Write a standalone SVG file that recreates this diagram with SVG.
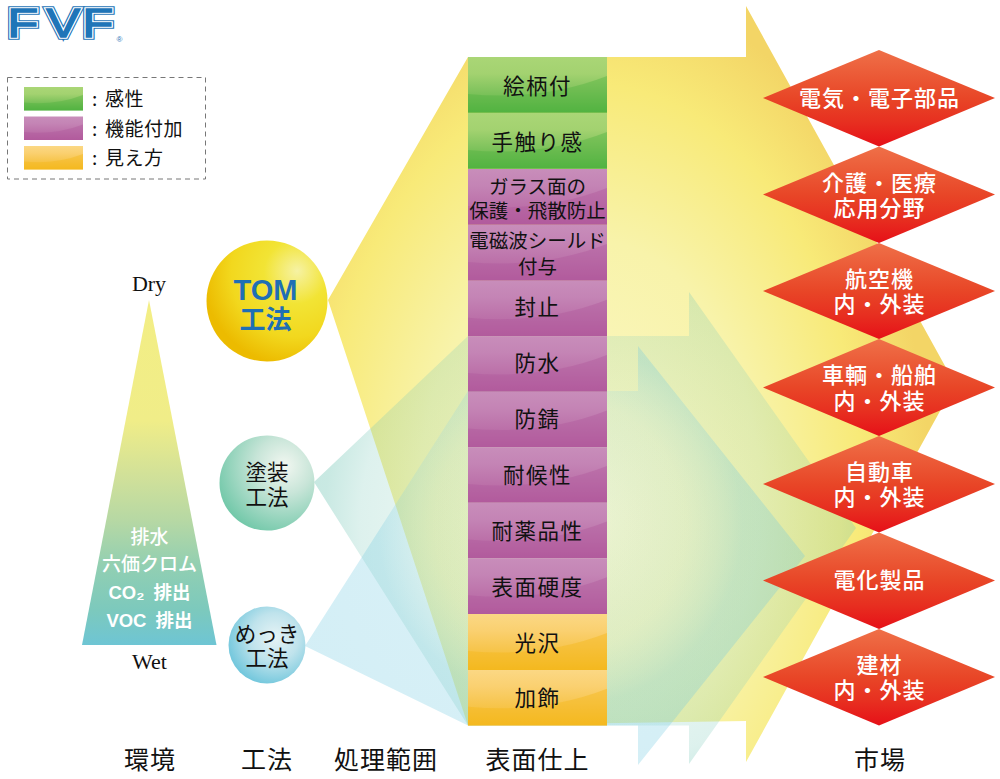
<svg xmlns="http://www.w3.org/2000/svg" xmlns:xlink="http://www.w3.org/1999/xlink" width="1000" height="779" viewBox="0 0 1000 779">
<style>
text{font-family:"Noto Sans CJK JP","Noto Sans",sans-serif;text-anchor:middle;fill:#111}
.r{font-size:21.5px;letter-spacing:1.5px}
.r2{font-size:19.5px}
.d{font-size:22px;letter-spacing:1px;fill:#fff;font-weight:500}
.h{font-size:25px;letter-spacing:1px}
.tri{font-size:19px;fill:#fff;font-weight:500}
.tl{font-family:"Liberation Sans","Noto Sans CJK JP",sans-serif;font-weight:700;font-size:18.5px;word-spacing:4px}
.ball{font-size:21.5px}
.leg{font-size:19px;text-anchor:start;letter-spacing:.5px}
.en{font-family:"Liberation Serif",serif;font-size:22px}
.gr{fill:url(#gG)}.pu{fill:url(#gP)}.or{fill:url(#gO)}
.ga{fill:#4fb23f;opacity:.4}.pa{fill:#b0589c;opacity:.4}.oa{fill:#f5b71c;opacity:.45}
.dia{fill:url(#gD)}
.lg{font-family:"Liberation Sans",sans-serif;font-size:40px;fill:#1f75b8;text-anchor:start}
</style>
<defs>
<linearGradient id="gG" x1="0" y1="0" x2="0" y2="1"><stop offset="0" stop-color="#aad676"/><stop offset=".3" stop-color="#a3d270"/><stop offset=".6" stop-color="#82c45e"/><stop offset="1" stop-color="#53b443"/></linearGradient>
<linearGradient id="gP" x1="0" y1="0" x2="0" y2="1"><stop offset="0" stop-color="#c88dba"/><stop offset=".3" stop-color="#c484b5"/><stop offset=".6" stop-color="#bd74ab"/><stop offset="1" stop-color="#b45d9e"/></linearGradient>
<linearGradient id="gO" x1="0" y1="0" x2="0" y2="1"><stop offset="0" stop-color="#fbd884"/><stop offset=".3" stop-color="#fad070"/><stop offset=".6" stop-color="#f7c650"/><stop offset="1" stop-color="#f5b921"/></linearGradient>
<path id="arc" d="M0,37 Q75,44 139,19 V55.700 H0 Z"/>
<linearGradient id="gD" x1="0" y1="0" x2="0" y2="1"><stop offset="0" stop-color="#ef7048"/><stop offset=".5" stop-color="#e84627"/><stop offset=".75" stop-color="#e72f20"/><stop offset="1" stop-color="#e61018"/></linearGradient>
<linearGradient id="gT" gradientUnits="userSpaceOnUse" x1="0" y1="300" x2="0" y2="645"><stop offset="0" stop-color="#f3ee85"/><stop offset=".35" stop-color="#f0ed88"/><stop offset=".52" stop-color="#cfe09a"/><stop offset=".64" stop-color="#b6d8a4"/><stop offset=".77" stop-color="#92cfb2"/><stop offset=".9" stop-color="#7cc9bd"/><stop offset="1" stop-color="#6ec5d4"/></linearGradient>
<radialGradient id="bY" cx=".72" cy=".28" r=".75" fx=".75" fy=".25"><stop offset="0" stop-color="#f6f2a4"/><stop offset=".35" stop-color="#f2e435"/><stop offset=".7" stop-color="#f2d81e"/><stop offset="1" stop-color="#ecbb00"/></radialGradient>
<radialGradient id="bG" cx=".68" cy=".32" r=".75"><stop offset="0" stop-color="#f2f7f1"/><stop offset=".4" stop-color="#c8e5d8"/><stop offset="1" stop-color="#72c8a9"/></radialGradient>
<radialGradient id="bB" cx=".6" cy=".4" r=".7"><stop offset="0" stop-color="#e6f3f5"/><stop offset=".45" stop-color="#bfe3ec"/><stop offset="1" stop-color="#62c1d9"/></radialGradient>
<radialGradient id="fY" gradientUnits="userSpaceOnUse" cx="0" cy="0" r="1" gradientTransform="translate(590 500) scale(340 520)"><stop offset="0" stop-color="#fbf8c8"/><stop offset=".5" stop-color="#f8f3aa"/><stop offset=".8" stop-color="#f8ea78"/><stop offset="1" stop-color="#f3d566"/></radialGradient>
<radialGradient id="fT" gradientUnits="userSpaceOnUse" cx="600" cy="525" r="300"><stop offset="0" stop-color="#cfeadc" stop-opacity=".22"/><stop offset=".4" stop-color="#a8dcc8" stop-opacity=".2"/><stop offset=".8" stop-color="#78c8b8" stop-opacity=".25"/><stop offset=".92" stop-color="#78c8b8" stop-opacity=".4"/><stop offset="1" stop-color="#78c8b8" stop-opacity=".42"/></radialGradient>
<radialGradient id="fB" gradientUnits="userSpaceOnUse" cx="560" cy="525" r="280"><stop offset="0" stop-color="#d8f0ec" stop-opacity=".18"/><stop offset=".45" stop-color="#a8dce8" stop-opacity=".16"/><stop offset=".65" stop-color="#6ec8e0" stop-opacity=".28"/><stop offset="1" stop-color="#6ec8e0" stop-opacity=".3"/></radialGradient>
<text id="logoT" class="lg" x="5.800 36.500 64.800" y="37.400" transform="scale(1.27 1)">FVF</text>
</defs>

<g id="logo">
<use href="#logoT" stroke="#1f75b8" stroke-width="5.300"/>
<use href="#logoT" stroke="#fff" stroke-width="3.400"/>
<use href="#logoT" stroke="#1f75b8" stroke-width="1.300"/>
<text x="119.500" y="42" style="font-family:'Liberation Sans',sans-serif;font-size:8px;fill:#1f75b8">®</text>
</g>

<g id="legend">
<rect x="7.500" y="77.500" width="198" height="101.500" fill="none" stroke="#777" stroke-dasharray="5 4"/>
<rect x="24" y="87" width="59" height="23.500" class="gr"/><use href="#arc" class="ga" transform="translate(24 87) scale(.4245 .422)"/>
<rect x="24" y="116.500" width="59" height="23.500" class="pu"/><use href="#arc" class="pa" transform="translate(24 116.500) scale(.4245 .422)"/>
<rect x="24" y="146" width="59" height="23.500" class="or"/><use href="#arc" class="oa" transform="translate(24 146) scale(.4245 .422)"/>
<text class="leg" x="92" y="105.500">:<tspan x="105">感性</tspan></text>
<text class="leg" x="92" y="135.500">:<tspan x="105">機能付加</tspan></text>
<text class="leg" x="92" y="165">:<tspan x="105">見え方</tspan></text>
</g>

<g id="connectors">
<polygon id="flow-tom" points="328,300 468,57 746,57 746,6 955,384 746,762 746,721 468,725.500" fill="url(#fY)"/>
<polygon id="flow-paint" points="314,482 468,336 689,336 689,292 856,528 689,764 689,725.500 468,725.500" fill="url(#fT)"/>
<polygon id="flow-plate" points="305,646 468,391 638,391 638,346 805,556 638,765 638,725.500 468,725.500" fill="url(#fB)"/>
</g>

<g id="environment">
<polygon points="149,300 216.500,645 82,645" fill="url(#gT)"/>
<text class="en" x="149" y="291">Dry</text>
<text class="en" x="149.500" y="669">Wet</text>
<text class="tri" x="149.500" y="544">排水</text>
<text class="tri" x="149.500" y="571">六価クロム</text>
<text class="tri tl" x="149.500" y="599">CO₂ 排出</text>
<text class="tri tl" x="149.500" y="627">VOC 排出</text>
</g>

<g id="node-tom">
<circle cx="267" cy="301" r="60.500" fill="url(#bY)"/>
<text x="265.500" y="299.500" style="font-family:'Liberation Sans',sans-serif;font-size:29px;font-weight:700;fill:#1f6fb5">TOM</text>
<text x="265.500" y="329" style="font-size:26px;font-weight:700;fill:#1f6fb5">工法</text>
</g>
<g id="node-paint">
<circle cx="267" cy="483" r="47.500" fill="url(#bG)"/>
<text class="ball" x="267" y="480">塗装</text>
<text class="ball" x="267" y="505">工法</text>
</g>
<g id="node-plating">
<circle cx="267" cy="645" r="38.500" fill="url(#bB)"/>
<text class="ball" x="267" y="642">めっき</text>
<text class="ball" x="267" y="666">工法</text>
</g>

<g id="surface">
<g id="s1"><rect x="468" y="57" width="139" height="55.700" class="gr"/><use href="#arc" x="468" y="57" class="ga"/><text class="r" x="537.500" y="94">絵柄付</text></g>
<g id="s2"><rect x="468" y="113" width="139" height="55.700" class="gr"/><use href="#arc" x="468" y="113" class="ga"/><text class="r" x="537.500" y="149.700">手触り感</text></g>
<g id="s3"><rect x="468" y="169" width="139" height="55.700" class="pu"/><use href="#arc" x="468" y="169" class="pa"/><text class="r2" x="537.500" y="194">ガラス面の</text><text class="r2" x="537.500" y="217.500">保護・飛散防止</text></g>
<g id="s4"><rect x="468" y="225" width="139" height="55.700" class="pu"/><use href="#arc" x="468" y="225" class="pa"/><text class="r2" x="537.500" y="247.500">電磁波シールド</text><text class="r2" x="537.500" y="274">付与</text></g>
<g id="s5"><rect x="468" y="280.700" width="139" height="55.500" class="pu"/><use href="#arc" x="468" y="280.700" class="pa"/><text class="r" x="537.500" y="315.300">封止</text></g>
<g id="s6"><rect x="468" y="336.200" width="139" height="55.500" class="pu"/><use href="#arc" x="468" y="336" class="pa"/><text class="r" x="537.500" y="371">防水</text></g>
<g id="s7"><rect x="468" y="391.700" width="139" height="55.500" class="pu"/><use href="#arc" x="468" y="391.500" class="pa"/><text class="r" x="537.500" y="427">防錆</text></g>
<g id="s8"><rect x="468" y="447.200" width="139" height="55.500" class="pu"/><use href="#arc" x="468" y="447" class="pa"/><text class="r" x="537.500" y="483">耐候性</text></g>
<g id="s9"><rect x="468" y="502.700" width="139" height="55.500" class="pu"/><use href="#arc" x="468" y="502.500" class="pa"/><text class="r" x="537.500" y="538.700">耐薬品性</text></g>
<g id="s10"><rect x="468" y="558.200" width="139" height="55.800" class="pu"/><use href="#arc" x="468" y="558.200" class="pa"/><text class="r" x="537.500" y="594.700">表面硬度</text></g>
<g id="s11"><rect x="468" y="614" width="139" height="56" class="or"/><use href="#arc" x="468" y="614" class="oa"/><text class="r" x="537.500" y="650.700">光沢</text></g>
<g id="s12"><rect x="468" y="670" width="139" height="55.500" class="or"/><use href="#arc" x="468" y="669.800" class="oa"/><text class="r" x="537.500" y="706">加飾</text></g>
</g>

<g id="markets">
<g id="m1"><polygon class="dia" points="879,50 995,98 879,146.500 763,98"/><text class="d" x="879.500" y="106">電気・電子部品</text></g>
<g id="m2"><polygon class="dia" points="879,146.500 995,194.500 879,243 763,194.500"/><text class="d" x="879.500" y="191">介護・医療</text><text class="d" x="879.500" y="216">応用分野</text></g>
<g id="m3"><polygon class="dia" points="879,243 995,291 879,339 763,291"/><text class="d" x="879.500" y="287">航空機</text><text class="d" x="879.500" y="312">内・外装</text></g>
<g id="m4"><polygon class="dia" points="879,339 995,387.500 879,436 763,387.500"/><text class="d" x="879.500" y="383">車輌・船舶</text><text class="d" x="879.500" y="409">内・外装</text></g>
<g id="m5"><polygon class="dia" points="879,436 995,484 879,532.500 763,484"/><text class="d" x="879.500" y="480">自動車</text><text class="d" x="879.500" y="505">内・外装</text></g>
<g id="m6"><polygon class="dia" points="879,532.500 995,580.500 879,629 763,580.500"/><text class="d" x="879.500" y="588">電化製品</text></g>
<g id="m7"><polygon class="dia" points="879,629 995,677 879,725.500 763,677"/><text class="d" x="879.500" y="673">建材</text><text class="d" x="879.500" y="698">内・外装</text></g>
</g>

<g id="headers">
<text class="h" x="150" y="769">環境</text>
<text class="h" x="267" y="769">工法</text>
<text class="h" x="386" y="769">処理範囲</text>
<text class="h" x="537.500" y="769">表面仕上</text>
<text class="h" x="880" y="769">市場</text>
</g>
</svg>
